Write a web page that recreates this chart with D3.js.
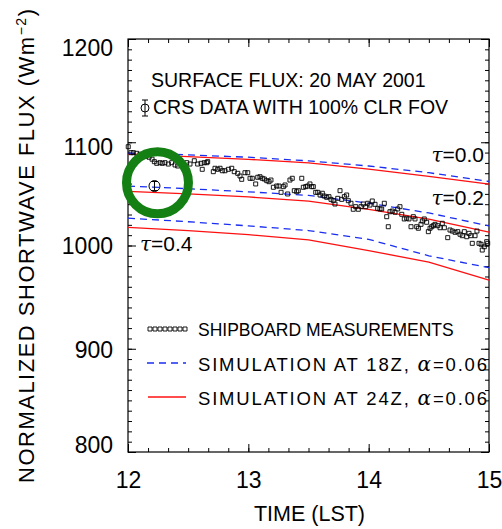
<!DOCTYPE html>
<html>
<head>
<meta charset="utf-8">
<script src="https://cdn.jsdelivr.net/npm/d3@7"></script>
<style>
  body { margin: 0; background: #fff; }
  text { font-family: "Liberation Sans", Arial, Helvetica, sans-serif; fill: #000; }
</style>
</head>
<body>
<div id="chart"></div>
<script>
// chart values
var simTimes = [12, 12.5, 13, 13.5, 14, 14.5, 15];
var sim18zTau00 = [1089.5, 1087.8, 1085.5, 1082, 1077, 1070.5, 1062];
var sim24zTau00 = [1088.8, 1086, 1083.5, 1080, 1074, 1067, 1059.5];
var sim18zTau02 = [1057.5, 1055, 1052, 1048.5, 1041, 1031.5, 1019];
var sim24zTau02 = [1052.5, 1050, 1047, 1043, 1035, 1025.5, 1013];
var sim18zTau04 = [1026.5, 1023, 1019, 1014.5, 1006, 990, 978.5];
var sim24zTau04 = [1017.5, 1014.5, 1010.5, 1005.5, 995, 984, 966.5];

var shipTimes = [12.002, 12.025, 12.044, 12.072, 12.1, 12.125, 12.15, 12.175, 12.2,
  12.219, 12.239, 12.266, 12.285, 12.307, 12.335, 12.363, 12.391, 12.413, 12.44,
  12.488, 12.515, 12.551, 12.579, 12.607, 12.617, 12.634, 12.654, 12.662, 12.709,
  12.723, 12.745, 12.765, 12.784, 12.806, 12.834, 12.862, 12.883, 12.912, 12.931,
  12.945, 12.972, 12.995, 13.014, 13.033, 13.061, 13.078, 13.097, 13.116, 13.133,
  13.153, 13.172, 13.188, 13.208, 13.236, 13.255, 13.272, 13.291, 13.305, 13.327,
  13.346, 13.365, 13.382, 13.402, 13.415, 13.444, 13.457, 13.477, 13.493, 13.512,
  13.527, 13.540, 13.560, 13.577, 13.596, 13.615, 13.631, 13.651, 13.670, 13.687,
  13.706, 13.720, 13.743, 13.762, 13.776, 13.798, 13.817, 13.831, 13.853, 13.872,
  13.892, 13.914, 13.936, 13.955, 13.975, 13.992, 14.011, 14.030, 14.053, 14.075,
  14.094, 14.108, 14.130, 14.150, 14.163, 14.177, 14.196, 14.219, 14.241, 14.260,
  14.275, 14.296, 14.316, 14.335, 14.352, 14.371, 14.385, 14.399, 14.413, 14.435,
  14.446, 14.462, 14.482, 14.496, 14.510, 14.524, 14.537, 14.551, 14.574, 14.593,
  14.612, 14.629, 14.657, 14.676, 14.695, 14.718, 14.740, 14.759, 14.778, 14.795,
  14.815, 14.834, 14.850, 14.861, 14.884, 14.900, 14.917, 14.934, 14.944, 14.961,
  14.981, 14.989];
var shipFlux = [1095.7, 1089.9, 1089.9, 1089.3, 1088.4, 1087.5, 1086.5, 1085.5, 1083.6,
  1081.2, 1079.6, 1080.2, 1079.6, 1080.2, 1078.9, 1080.2, 1078.0, 1077.0, 1078.9,
  1080.2, 1078.9, 1082.1, 1078.9, 1079.6, 1073.8, 1080.2, 1080.2, 1081.2, 1071.5,
  1074.8, 1073.8, 1074.8, 1072.4, 1072.4, 1073.8, 1074.8, 1071.5, 1069.9, 1067.3,
  1064.1, 1070.5, 1070.5, 1065.1, 1065.1, 1059.6, 1066.1, 1066.6, 1065.1, 1064.4,
  1062.8, 1061.8, 1063.4, 1056.4, 1057.6, 1057.6, 1051.5, 1057.0, 1058.6, 1049.9,
  1063.4, 1065.1, 1053.1, 1052.1, 1053.1, 1065.1, 1056.4, 1057.0, 1057.6, 1059.6,
  1057.0, 1057.0, 1051.5, 1051.5, 1048.9, 1050.6, 1047.9, 1046.7, 1047.3, 1044.7,
  1043.4, 1040.2, 1045.7, 1053.1, 1044.7, 1047.3, 1048.9, 1043.4, 1040.9, 1035.1,
  1037.6, 1035.1, 1037.6, 1040.2, 1037.6, 1040.9, 1039.2, 1043.1, 1039.9, 1036.0,
  1035.4, 1035.4, 1040.9, 1027.9, 1018.2, 1032.7, 1033.4, 1032.2, 1035.4, 1037.6,
  1030.2, 1025.7, 1026.4, 1025.7, 1018.2, 1027.9, 1025.7, 1018.2, 1016.7, 1020.5,
  1023.7, 1025.7, 1022.5, 1013.4, 1016.7, 1018.2, 1019.2, 1020.5, 1019.2, 1017.2,
  1021.5, 1017.2, 1007.6, 1015.0, 1014.0, 1012.8, 1013.4, 1010.9, 1009.5, 1013.4,
  1008.5, 1011.8, 1009.5, 1002.1, 1009.5, 1014.0, 1002.1, 1001.2, 995.6, 998.8,
  1003.7, 1002.1];

var crsTime = 12.22, crsFlux = 1057.6, crsErr = 4.4;
var ringTime = 12.245, ringFlux = 1060.7;

var xTicks = [12, 13, 14, 15];
var yTicks = [800, 900, 1000, 1100, 1200];
var tauValues = ["0.0", "0.2", "0.4"];
var legendLabels = ["SHIPBOARD MEASUREMENTS", "SIMULATION AT 18Z, ", "SIMULATION AT 24Z, "];

var svgWidth = 502, svgHeight = 529;
var margin = {top: 39, right: 13, bottom: 77, left: 128};
var chartWidth = svgWidth - margin.left - margin.right;
var chartHeight = svgHeight - margin.top - margin.bottom;

var svg = d3.select("#chart").append("svg")
  .attr("width", svgWidth)
  .attr("height", svgHeight);

var chartGroup = svg.append("g")
  .attr("transform", `translate(${margin.left}, ${margin.top})`);

var x = d3.scaleLinear().domain([12, 15]).range([0, chartWidth]);
var y = d3.scaleLinear().domain([800, 1200]).range([chartHeight, 0]);

// minor ticks: 10 minutes on x, 10 W/m2 on y
var xMinor = d3.range(12, 15.001, 1 / 6);
var yMinor = d3.range(800, 1200.1, 10);

function tickAxis(axis, values, size, transform) {
  chartGroup.append("g")
    .attr("class", "ticks")
    .attr("transform", transform)
    .call(axis.tickValues(values).tickSize(size).tickFormat(""))
    .call(g => g.select(".domain").remove());
}
tickAxis(d3.axisBottom(x), xMinor, -4, `translate(0, ${chartHeight})`);
tickAxis(d3.axisTop(x), xMinor, -4, "translate(0,0)");
tickAxis(d3.axisLeft(y), yMinor, -4, "translate(0,0)");
tickAxis(d3.axisRight(y), yMinor, -4, `translate(${chartWidth},0)`);
tickAxis(d3.axisTop(x), xTicks, -8, "translate(0,0)");
tickAxis(d3.axisRight(y), yTicks, -8, `translate(${chartWidth},0)`);

// labelled axes
var bottomAxis = chartGroup.append("g")
  .attr("transform", `translate(0, ${chartHeight})`)
  .call(d3.axisBottom(x).tickValues(xTicks).tickSize(-8).tickPadding(20).tickFormat(d3.format("d")));
var leftAxis = chartGroup.append("g")
  .call(d3.axisLeft(y).tickValues(yTicks).tickSize(-8).tickPadding(15).tickFormat(d3.format("d")));

[bottomAxis, leftAxis].forEach(function(g) {
  g.select(".domain").remove();
  g.selectAll("text").style("font-size", "23px").attr("fill", "#000")
    .style("font-family", "'Liberation Sans', Arial, sans-serif");
});
leftAxis.selectAll("text").attr("dy", d => d == 1200 ? "0.72em" : (d == 800 ? "0em" : (d == 1100 ? "0.55em" : "0.36em")));

chartGroup.selectAll(".ticks line, g line").attr("stroke", "#000").attr("stroke-width", 1);

// frame
chartGroup.append("rect")
  .attr("width", chartWidth)
  .attr("height", chartHeight)
  .attr("fill", "none")
  .attr("stroke", "#000")
  .attr("stroke-width", 1.2);

// simulation curves
var line = d3.line().x((d, i) => x(simTimes[i])).y(d => y(d));
var blueSeries = [sim18zTau00, sim18zTau02, sim18zTau04];
var redSeries = [sim24zTau00, sim24zTau02, sim24zTau04];

chartGroup.selectAll(".sim24").data(redSeries).enter()
  .append("path").attr("class", "sim24")
  .attr("d", line)
  .attr("fill", "none")
  .attr("stroke", "#ff1010")
  .attr("stroke-width", 1.3);

chartGroup.selectAll(".sim18").data(blueSeries).enter()
  .append("path").attr("class", "sim18")
  .attr("d", line)
  .attr("fill", "none")
  .attr("stroke", "#1a2ef0")
  .attr("stroke-width", 1.3)
  .attr("stroke-dasharray", "7,5");

// shipboard squares
var square = d3.symbol().type(d3.symbolSquare).size(16);
chartGroup.selectAll(".ship").data(shipTimes).enter()
  .append("path").attr("class", "ship")
  .attr("d", square)
  .attr("transform", (d, i) => `translate(${x(d)},${y(shipFlux[i])})`)
  .attr("fill", "none")
  .attr("stroke", "#000")
  .attr("stroke-width", 0.9);

// CRS point with error bar
function crsSymbol(g, cx, cy, r, half) {
  g.append("circle").attr("cx", cx).attr("cy", cy).attr("r", r)
    .attr("fill", "none").attr("stroke", "#000").attr("stroke-width", 1);
  g.append("line").attr("x1", cx).attr("x2", cx).attr("y1", cy - half).attr("y2", cy + half)
    .attr("stroke", "#000").attr("stroke-width", 1);
  g.append("line").attr("x1", cx - 3).attr("x2", cx + 3).attr("y1", cy - half).attr("y2", cy - half)
    .attr("stroke", "#000").attr("stroke-width", 1);
  g.append("line").attr("x1", cx - 3).attr("x2", cx + 3).attr("y1", cy + half).attr("y2", cy + half)
    .attr("stroke", "#000").attr("stroke-width", 1);
}
crsSymbol(chartGroup, x(crsTime), y(crsFlux), 5.5, y(crsFlux - crsErr) - y(crsFlux));

// green highlight ring
chartGroup.append("circle")
  .attr("cx", x(ringTime))
  .attr("cy", y(ringFlux))
  .attr("r", 31)
  .attr("fill", "none")
  .attr("stroke", "#148014")
  .attr("stroke-width", 9);

// tau labels
var tau = chartGroup.selectAll(".tau").data(tauValues).enter()
  .append("text").attr("class", "tau")
  .attr("x", (d, i) => i < 2 ? chartWidth - 5 : 12)
  .attr("y", (d, i) => [123, 166, 212][i])
  .attr("text-anchor", (d, i) => i < 2 ? "end" : "start")
  .style("font-size", "21px");
tau.append("tspan").style("font-style", "italic").style("font-family", "'DejaVu Serif', serif")
  .style("font-size", "20px").text("\u03c4");
tau.append("tspan").text(d => "=" + d);

// title and CRS legend
chartGroup.append("text")
  .attr("x", 23).attr("y", 48)
  .style("font-size", "19.5px")
  .text("SURFACE FLUX: 20 MAY 2001");
crsSymbol(chartGroup, 17, 69, 4, 8);
chartGroup.append("text")
  .attr("x", 25).attr("y", 74.5)
  .style("font-size", "19.5px")
  .text("CRS DATA WITH 100% CLR FOV");

// lower legend
var legend = chartGroup.append("g").attr("transform", "translate(19, 290)");
d3.range(8).forEach(function(k) {
  legend.append("path").attr("d", square)
    .attr("transform", `translate(${3 + k * 5},0)`)
    .attr("fill", "none").attr("stroke", "#000").attr("stroke-width", 0.9);
});
legend.append("line").attr("x1", 0).attr("x2", 39).attr("y1", 34).attr("y2", 34)
  .attr("stroke", "#1a2ef0").attr("stroke-width", 1.3).attr("stroke-dasharray", "7,5");
legend.append("line").attr("x1", 1).attr("x2", 39).attr("y1", 68).attr("y2", 68)
  .attr("stroke", "#ff1010").attr("stroke-width", 1.3);
var legendText = legend.selectAll(".lab").data(legendLabels).enter()
  .append("text").attr("class", "lab")
  .attr("x", 51)
  .attr("y", (d, i) => 7 + i * 34.5)
  .style("font-size", (d, i) => i > 0 ? "18.5px" : "17.5px");
legendText.append("tspan").text(d => d);
legendText.filter((d, i) => i > 0).each(function() {
  var t = d3.select(this);
  t.attr("textLength", 289).attr("lengthAdjust", "spacing");
  t.append("tspan").style("font-style", "italic").style("font-family", "'DejaVu Serif', serif")
    .style("font-size", "20px").text("\u03b1");
  t.append("tspan").text("=0.06");
});

// axis titles
svg.append("text")
  .attr("x", margin.left + chartWidth / 2 + 1)
  .attr("y", 521)
  .attr("text-anchor", "middle")
  .style("font-size", "21.5px")
  .text("TIME (LST)");

var yTitle = svg.append("text")
  .attr("transform", "translate(34, 246) rotate(-90)")
  .attr("text-anchor", "middle")
  .attr("textLength", 474)
  .attr("lengthAdjust", "spacing")
  .style("font-size", "22px");
yTitle.append("tspan").text("NORMALIZED SHORTWAVE FLUX (Wm");
yTitle.append("tspan").attr("dy", -8).style("font-size", "14px").text("\u22122");
yTitle.append("tspan").attr("dy", 8).text(")");
</script>
</body>
</html>
